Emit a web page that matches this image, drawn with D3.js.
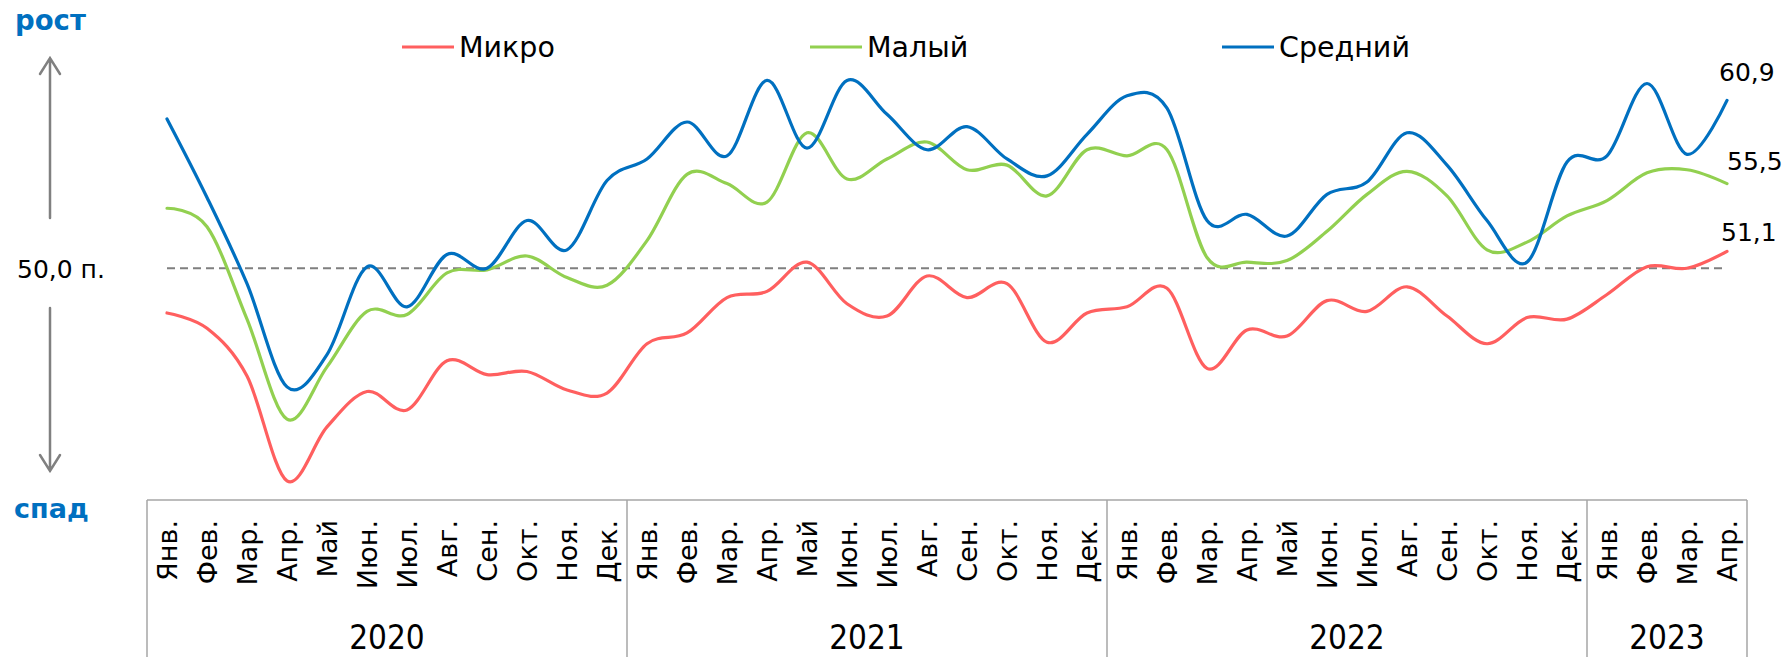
<!DOCTYPE html>
<meta charset="utf-8">
<style>
body { margin: 0; background: #fff; }
svg { display: block; font-family: "DejaVu Sans", sans-serif; }
.series { fill: none; stroke-width: 3.2px; stroke-linejoin: round; stroke-linecap: round; }
.box { stroke: #a6a6a6; stroke-width: 1.5px; fill: none; }
.arrow { stroke: #808080; stroke-width: 2.5px; fill: none; stroke-linecap: round; }
</style>
<svg width="1786" height="657"></svg>
<script src="https://d3js.org/d3.v7.min.js"></script>
<script>

var years = ["2020", "2021", "2022", "2023"];
var monthsPerYear = [12, 12, 12, 4];
var monthNames = ["Янв.", "Фев.", "Мар.", "Апр.", "Май", "Июн.", "Июл.", "Авг.", "Сен.", "Окт.", "Ноя.", "Дек."];

var micro  = [47.1, 46.1, 43.0, 36.2, 39.7, 42.0, 40.8, 44.0, 43.1, 43.3, 42.1, 41.9,
              45.1, 45.8, 48.1, 48.5, 50.4, 47.7, 46.9, 49.5, 48.1, 49.0, 45.2, 47.1,
              47.5, 48.7, 43.5, 46.0, 45.6, 47.9, 47.2, 48.8, 46.9, 45.1, 46.8, 46.7,
              48.3, 50.1, 50.0, 51.1];
var small  = [53.9, 52.7, 46.7, 40.2, 43.6, 47.2, 47.0, 49.7, 49.9, 50.8, 49.4, 48.9,
              51.8, 56.1, 55.5, 54.3, 58.8, 55.8, 57.1, 58.2, 56.4, 56.7, 54.7, 57.7,
              57.3, 57.7, 50.7, 50.4, 50.5, 52.4, 54.8, 56.3, 54.7, 51.2, 51.7, 53.4,
              54.4, 56.2, 56.4, 55.5];
var medium = [59.7, 54.6, 49.0, 42.3, 44.4, 50.1, 47.5, 50.9, 50.0, 53.1, 51.2, 55.7,
              57.1, 59.5, 57.3, 62.2, 57.8, 62.2, 60.0, 57.7, 59.2, 57.1, 56.0, 58.7,
              61.2, 60.4, 53.1, 53.5, 52.1, 54.8, 55.6, 58.8, 56.7, 53.1, 50.4, 56.9,
              57.3, 62.0, 57.4, 60.9];

var seriesNames = ["Микро", "Малый", "Средний"];
var seriesColors = ["#ff5f5f", "#92d050", "#0070c0"];
var threshold = 50;

// month categories
var cats = [];
years.forEach(function(y, yi) {
  for (var m = 0; m < monthsPerYear[yi]; m++) cats.push({ year: y, month: monthNames[m] });
});

var svg = d3.select("svg");
var left = 147, right = 1747, plotBottom = 500;

var x = d3.scaleBand().domain(d3.range(cats.length)).range([left, right]);
var cx = function(i) { return x(i) + x.bandwidth() / 2; };
var y = d3.scaleLinear().domain([35, 64]).range([499.3, 52.7]);

// threshold
svg.append("line")
    .attr("x1", cx(0)).attr("x2", cx(cats.length - 1))
    .attr("y1", y(threshold)).attr("y2", y(threshold))
    .attr("stroke", "#7f7f7f").attr("stroke-width", 2).attr("stroke-dasharray", "8,5");

var line = d3.line()
    .x(function(d, i) { return cx(i); })
    .y(function(d) { return y(d); })
    .curve(d3.curveCardinal.tension(0));

var allSeries = [micro, small, medium];
allSeries.forEach(function(s, k) {
  svg.append("path").datum(s)
      .attr("class", "series")
      .attr("stroke", seriesColors[k])
      .attr("d", line);
});

// end labels
var fmt = function(v) { return d3.format(".1f")(v).replace(".", ","); };
var labelOff = [[-6, -10], [0, -14], [-8, -19]];
allSeries.forEach(function(s, k) {
  var n = s.length - 1;
  svg.append("text")
      .attr("x", cx(n) + labelOff[k][0])
      .attr("y", y(s[n]) + labelOff[k][1])
      .attr("font-size", 25).attr("fill", "#000")
      .text(fmt(s[n]));
});

// legend
var legendX = [402, 810, 1222];
seriesNames.forEach(function(name, k) {
  var g = svg.append("g").attr("transform", "translate(" + legendX[k] + ",47)");
  g.append("line").attr("x1", 0).attr("x2", 52).attr("stroke", seriesColors[k]).attr("stroke-width", 3.2);
  g.append("text").attr("x", 57).attr("y", 10).attr("font-size", 28.5).text(name);
});

// category axis box
var yearStarts = [0];
monthsPerYear.forEach(function(n, i) { yearStarts.push(yearStarts[i] + n); });
svg.append("line").attr("class", "box")
    .attr("x1", left).attr("x2", right).attr("y1", plotBottom).attr("y2", plotBottom);
yearStarts.forEach(function(s) {
  var xx = s < cats.length ? x(s) : right;
  svg.append("line").attr("class", "box")
      .attr("x1", xx).attr("x2", xx).attr("y1", plotBottom).attr("y2", 657);
});

svg.selectAll(".month").data(cats).enter().append("text")
    .attr("class", "month")
    .attr("transform", function(d, i) { return "translate(" + cx(i) + ",520) rotate(-90)"; })
    .attr("text-anchor", "end")
    .attr("dy", "0.36em")
    .attr("font-size", 27)
    .text(function(d) { return d.month; });

years.forEach(function(yr, i) {
  var x0 = x(yearStarts[i]), x1 = yearStarts[i + 1] < cats.length ? x(yearStarts[i + 1]) : right;
  svg.append("text")
      .attr("x", (x0 + x1) / 2).attr("y", 649)
      .attr("text-anchor", "middle")
      .attr("font-family", "'Liberation Sans Narrow', 'DejaVu Sans Condensed', sans-serif")
      .attr("font-size", 33)
      .text(yr);
});

// left annotations
svg.append("text").attr("x", 15).attr("y", 30)
    .attr("font-size", 27.5).attr("font-weight", "bold").attr("fill", "#0070c0").text("рост");
svg.append("text").attr("x", 14).attr("y", 518)
    .attr("font-size", 27).attr("font-weight", "bold").attr("fill", "#0070c0").text("спад");
svg.append("text").attr("x", 17).attr("y", y(threshold) + 10)
    .attr("font-size", 25).text("50,0 п.");

var ax = 50;
svg.append("path").attr("class", "arrow")
    .attr("d", "M" + ax + ",218V58M" + (ax - 10) + ",74L" + ax + ",58L" + (ax + 10) + ",74");
svg.append("path").attr("class", "arrow")
    .attr("d", "M" + ax + ",308V471M" + (ax - 10) + ",455L" + ax + ",471L" + (ax + 10) + ",455");

</script>
